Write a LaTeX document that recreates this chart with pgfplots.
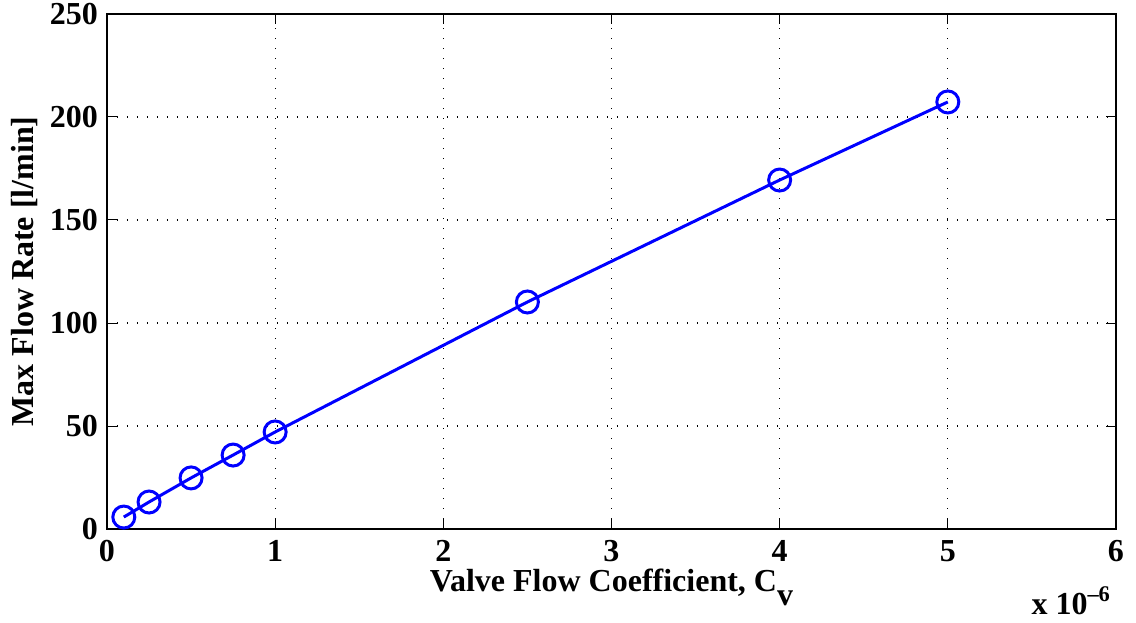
\documentclass[border=0pt]{standalone}
\usepackage{fontspec}
\setmainfont{Liberation Serif}
\usepackage{pgfplots}
\pgfplotsset{compat=1.18}

\definecolor{mblue}{RGB}{0,0,255}

\begin{document}
\begin{tikzpicture}
\begin{axis}[
  at={(0,0)}, anchor=south west,
  width=504.5pt, height=257.5pt,
  scale only axis,
  xmin=0, xmax=6, ymin=0, ymax=250,
  xtick={0,1,2,3,4,5,6},
  ytick={0,50,100,150,200,250},
  tick align=inside,
  major tick length=5pt,
  tick style={black, line width=0.5pt},
  axis line style={black, line width=0.6pt},
  grid=major,
  major grid style={black, line width=0.6pt, dash pattern=on 0.6pt off 4.4pt},
  /pgf/number format/assume math mode=true,
  ticklabel style={font=\fontsize{16}{19}\selectfont\bfseries},
  xticklabel style={yshift=-2pt},
  yticklabel style={xshift=-1pt},
  label style={font=\fontsize{16}{19}\selectfont\bfseries},
  xlabel={Valve Flow Coefficient, C\raisebox{-7pt}{v}},
  xlabel style={at={(axis description cs:0.5,-0.1215)}, anchor=base},
  ylabel={Max Flow Rate [l/min]},
  ylabel style={at={(axis description cs:-0.0813,0.5)}, anchor=center},
  clip=false,
]
\addplot[mblue, line width=1.5pt, mark=o,
  mark options={line width=1.5pt, solid}, mark size=5.5pt]
  coordinates {
    (0.1,5.8) (0.25,13.1) (0.5,24.8) (0.75,35.9)
    (1,47.1) (2.5,110.2) (4,169.4) (5,207.3)
  };
\node[anchor=base east, font=\fontsize{16}{19}\selectfont\bfseries]
  at (rel axis cs:1,0) [yshift=-42.5pt, xshift=1pt] {x 10\textsuperscript{\textendash 6}};
\end{axis}
\pgfresetboundingbox
\path[use as bounding box] (-53.5pt,-46.5pt) rectangle (514.5pt,264.5pt);
\end{tikzpicture}
\end{document}
